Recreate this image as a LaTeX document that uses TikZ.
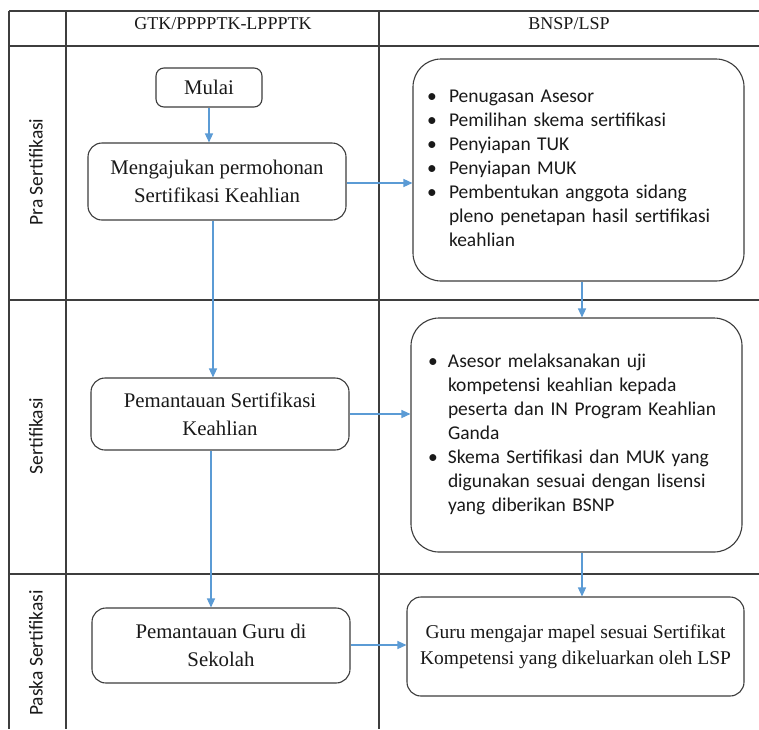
\documentclass[tikz,border=0pt]{standalone}
\usepackage{fontspec}
\setmainfont{Liberation Serif}
\newfontfamily\calib{Carlito}
\usetikzlibrary{arrows.meta,calc}
\definecolor{lineblue}{RGB}{91,155,213}
\definecolor{gridc}{RGB}{62,62,62}
\definecolor{boxc}{RGB}{60,60,60}
\definecolor{txtc}{RGB}{25,25,25}
\begin{document}
\begin{tikzpicture}[x=1pt,y=-1pt,
  gridline/.style={draw=gridc, line width=1.5pt},
  lbox/.style={draw=boxc, line width=1.1pt, rounded corners=12pt, align=center,
    text=txtc, font=\fontsize{20.8}{28}\selectfont, inner sep=0pt},
  bbox/.style={draw=boxc, line width=1.1pt, text=txtc, inner ysep=0pt},
  hdr/.style={text=txtc, font=\fontsize{18}{20}\selectfont, inner sep=0pt},
  lane/.style={text=txtc, font=\calib\fontsize{19.5}{22}\selectfont, rotate=90, inner sep=0pt},
  arr/.style={draw=lineblue, line width=1.3pt, -{Triangle[length=9pt,width=8pt]}}]
\fill[white] (0,0) rectangle (759,729);
\useasboundingbox (0,0) rectangle (759,729);
% table
\draw[gridline] (9,11) -- (759,11);
\draw[gridline] (9,46) -- (759,46);
\draw[gridline] (9,300) -- (759,300);
\draw[gridline] (9,574) -- (759,574);
\draw[gridline] (9,11) -- (9,729);
\draw[gridline] (66,11) -- (66,729);
\draw[gridline] (379,11) -- (379,729);
% headers
\node[hdr] (h1) at (223,24) {GTK/PPPPTK-LPPPTK};
\node[hdr] (h2) at (569,24) {BNSP/LSP};
% lane labels
\node[lane] (l1) at (36,172) {Pra Sertifikasi};
\node[lane] (l2) at (36,436) {Sertifikasi};
\node[lane] (l3) at (36,653) {Paska Sertifikasi};
% left column boxes
\node[lbox, rounded corners=8pt, minimum width=106pt, minimum height=39pt] (mulai) at (209,87.5) {Mulai};
\node[lbox, rounded corners=14pt, minimum width=258pt, minimum height=77pt] (aju) at (217,181.5) {Mengajukan permohonan\\Sertifikasi Keahlian};
\node[lbox, rounded corners=14pt, minimum width=258pt, minimum height=72pt] (pantau) at (220,414) {Pemantauan Sertifikasi\\Keahlian};
\node[lbox, rounded corners=14pt, minimum width=258pt, minimum height=75pt] (guru) at (221,645.5) {Pemantauan Guru di\\Sekolah};
% right column boxes
\node[bbox, rounded corners=28pt, minimum width=331pt, minimum height=222pt, inner xsep=14pt, text width=303pt, align=left,
  font=\calib\fontsize{19.5}{24}\selectfont] (b1) at (578.5,170)
  {\noindent\begin{tabular}{@{}p{22pt}@{}l@{}}
  \textbullet & Penugasan Asesor\\
  \textbullet & Pemilihan skema sertifikasi\\
  \textbullet & Penyiapan TUK\\
  \textbullet & Penyiapan MUK\\
  \textbullet & Pembentukan anggota sidang\\
   & pleno penetapan hasil sertifikasi\\
   & keahlian
  \end{tabular}};
\node[bbox, rounded corners=28pt, minimum width=331pt, minimum height=234pt, inner xsep=17pt, text width=297pt, align=left,
  font=\calib\fontsize{19.5}{24}\selectfont] (b2) at (576.5,435)
  {\noindent\begin{tabular}{@{}p{20pt}@{}l@{}}
  \textbullet & Asesor melaksanakan uji\\
   & kompetensi keahlian kepada\\
   & peserta dan IN Program Keahlian\\
   & Ganda\\
  \textbullet & Skema Sertifikasi dan MUK yang\\
   & digunakan sesuai dengan lisensi\\
   & yang diberikan BSNP
  \end{tabular}};
\node[bbox, rounded corners=14pt, minimum width=337pt, minimum height=99pt, inner xsep=0pt, align=center,
  font=\fontsize{19.5}{25.5}\selectfont] (b3) at (575.5,646.5)
  {Guru mengajar mapel sesuai Sertifikat\\Kompetensi yang dikeluarkan oleh LSP};
% connectors
\coordinate (xa) at (209,0);
\coordinate (xb) at (213,0);
\coordinate (xc) at (211,0);
\coordinate (xd) at (582,0);
\draw[arr] (mulai.south -| xa) -- (aju.north -| xa);
\draw[arr] (aju.south -| xb) -- (pantau.north -| xb);
\draw[arr] (pantau.south -| xc) -- (guru.north -| xc);
\draw[arr] (b1.south -| xd) -- (b2.north -| xd);
\draw[arr] (b2.south -| xd) -- (b3.north -| xd);
\coordinate (ya) at (0,183);
\coordinate (yb) at (0,414);
\coordinate (yc) at (0,645);
\draw[arr] (aju.east |- ya) -- (b1.west |- ya);
\draw[arr] (pantau.east |- yb) -- (b2.west |- yb);
\draw[arr] (guru.east |- yc) -- (b3.west |- yc);
\end{tikzpicture}
\end{document}
